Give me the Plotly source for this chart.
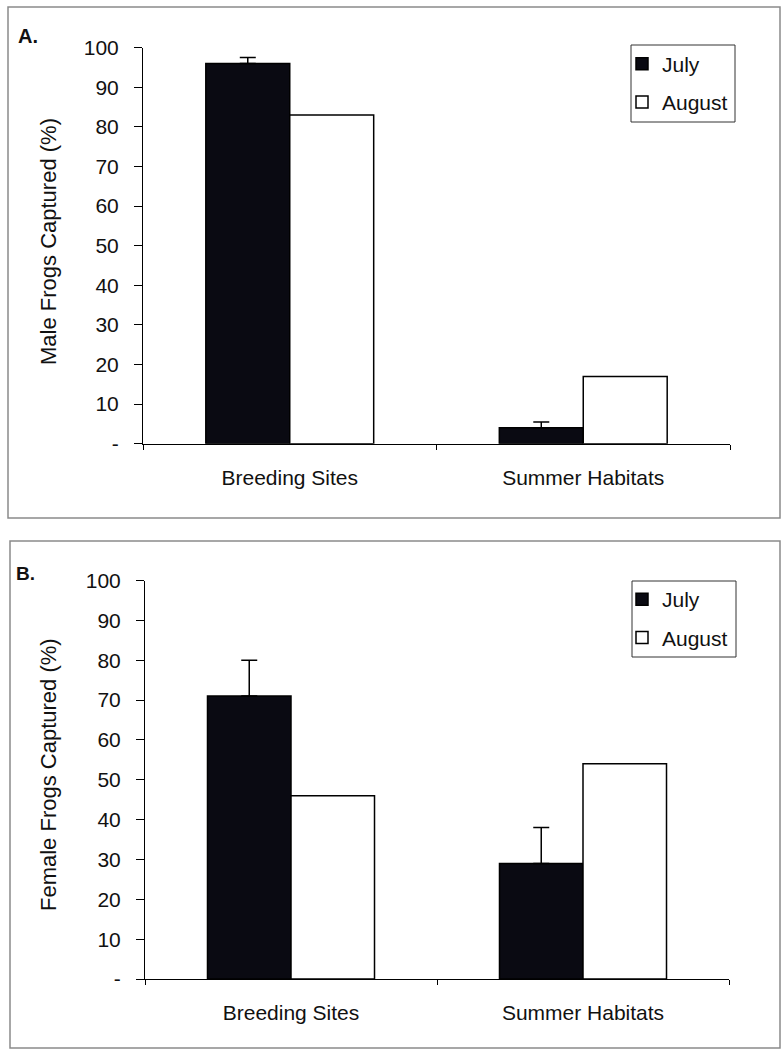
import plotly.graph_objects as go

# Capture data (% of frogs captured per habitat type)
habitats = ["Breeding Sites", "Summer Habitats"]
months = ["July", "August"]

male_july = [96, 4]
male_july_se = [1.5, 1.5]
male_august = [83, 17]

female_july = [71, 29]
female_july_se = [9, 9]
female_august = [46, 54]

y_tick_vals = [0, 10, 20, 30, 40, 50, 60, 70, 80, 90, 100]
y_tick_text = ["-", "10", "20", "30", "40", "50", "60", "70", "80", "90", "100"]

W, H = 782, 1051
FONT = "Liberation Sans, Arial, sans-serif"


def px_x(v):
    return v / W


def px_y(v):
    return 1 - v / H


fig = go.Figure()

panels = [
    ("x", "y", "legend", male_july, male_july_se, male_august),
    ("x2", "y2", "legend2", female_july, female_july_se, female_august),
]
for xa, ya, lg, july, july_se, aug in panels:
    fig.add_trace(go.Bar(
        x=habitats, y=july, name=months[0], xaxis=xa, yaxis=ya, legend=lg,
        legendgroup=lg + "a",
        marker=dict(color="#0a0a12", line=dict(color="#000000", width=1.5)),
        error_y=dict(type="data", symmetric=False, array=july_se,
                     arrayminus=[0] * len(july_se), visible=True,
                     color="#000000", thickness=1.5, width=8),
    ))
    fig.add_trace(go.Bar(
        x=habitats, y=aug, name=months[1], xaxis=xa, yaxis=ya, legend=lg,
        legendgroup=lg + "b",
        marker=dict(color="#ffffff", line=dict(color="#000000", width=1.5)),
    ))

axis_font = dict(family=FONT, size=21, color="#111111")

common_x = dict(
    type="category", showline=True, linecolor="#000000", linewidth=1,
    ticks="outside", tickson="boundaries", ticklen=5, tickcolor="#000000",
    tickfont=axis_font, ticklabelstandoff=15, showgrid=False, zeroline=False,
    automargin=False,
)
common_y = dict(
    range=[0, 100], showline=True, linecolor="#000000", linewidth=1,
    ticks="outside", ticklen=8, tickcolor="#000000",
    tickvals=y_tick_vals, ticktext=y_tick_text, tickfont=axis_font,
    ticklabelstandoff=11, showgrid=False, zeroline=False, automargin=False,
)

legend_common = dict(
    xanchor="left", yanchor="top", borderwidth=0,
    bgcolor="rgba(255,255,255,0)",
    font=dict(family=FONT, size=21, color="#111111"),
    tracegroupgap=8,
)

fig.update_layout(
    template="none",
    width=W, height=H,
    margin=dict(l=0, r=0, t=0, b=0, autoexpand=False),
    paper_bgcolor="#ffffff", plot_bgcolor="#ffffff",
    barmode="group", bargap=0.428, bargroupgap=0,
    font=dict(family=FONT, color="#111111"),
    xaxis=dict(common_x, domain=[px_x(143), px_x(730)], anchor="y"),
    yaxis=dict(common_y, domain=[px_y(443.7), px_y(47.7)], anchor="x"),
    xaxis2=dict(common_x, domain=[px_x(145), px_x(729)], anchor="y2"),
    yaxis2=dict(common_y, domain=[px_y(979), px_y(580.5)], anchor="x2"),
    legend=dict(legend_common, x=px_x(622), y=px_y(43.5)),
    legend2=dict(legend_common, x=px_x(622), y=px_y(579)),
    showlegend=True,
)

# Panel frames
frame_style = dict(color="#8a8a8a", width=1.5)
fig.add_shape(type="rect", xref="paper", yref="paper",
              x0=px_x(8), x1=px_x(780), y0=px_y(518), y1=px_y(7),
              line=frame_style, fillcolor="rgba(0,0,0,0)", layer="below")
fig.add_shape(type="rect", xref="paper", yref="paper",
              x0=px_x(10), x1=px_x(780), y0=px_y(1048), y1=px_y(541),
              line=frame_style, fillcolor="rgba(0,0,0,0)", layer="below")

# Legend frames
legend_frame = dict(color="#333333", width=1)
fig.add_shape(type="rect", xref="paper", yref="paper",
              x0=px_x(631), x1=px_x(735), y0=px_y(122), y1=px_y(45),
              line=legend_frame, fillcolor="rgba(0,0,0,0)", layer="above")
fig.add_shape(type="rect", xref="paper", yref="paper",
              x0=px_x(632), x1=px_x(736), y0=px_y(657), y1=px_y(581),
              line=legend_frame, fillcolor="rgba(0,0,0,0)", layer="above")

# Panel letters and y-axis titles
fig.add_annotation(text="<b>A.</b>", xref="paper", yref="paper",
                   x=px_x(16), y=px_y(36), xanchor="left", yanchor="middle",
                   showarrow=False, font=dict(family=FONT, size=20, color="#111111"))
fig.add_annotation(text="<b>B.</b>", xref="paper", yref="paper",
                   x=px_x(14), y=px_y(573), xanchor="left", yanchor="middle",
                   showarrow=False, font=dict(family=FONT, size=19, color="#111111"))

fig.add_annotation(text="Male Frogs Captured (%)", xref="paper", yref="paper",
                   x=px_x(48), y=px_y(242), xanchor="center", yanchor="middle",
                   textangle=-90, showarrow=False,
                   font=dict(family=FONT, size=22, color="#111111"))
fig.add_annotation(text="Female Frogs Captured (%)", xref="paper", yref="paper",
                   x=px_x(48), y=px_y(775), xanchor="center", yanchor="middle",
                   textangle=-90, showarrow=False,
                   font=dict(family=FONT, size=22, color="#111111"))

fig.write_html("out.html")
